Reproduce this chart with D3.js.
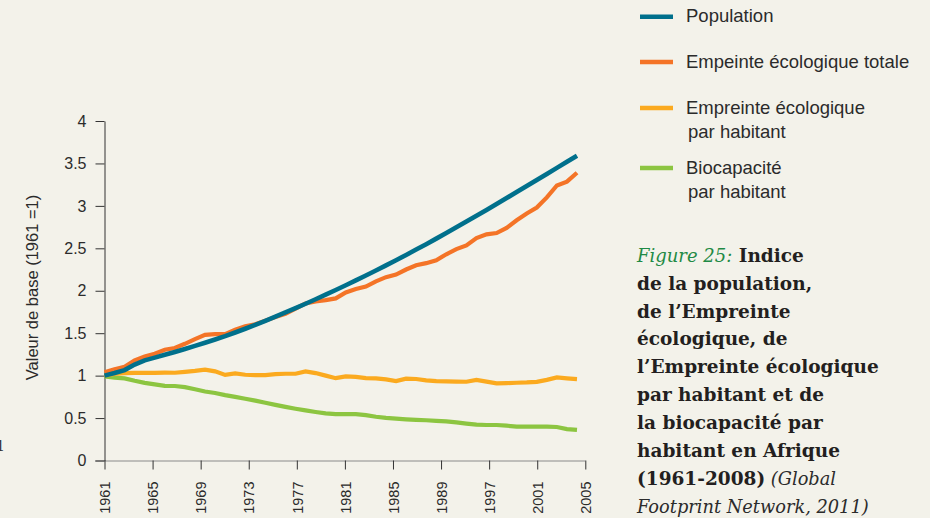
<!DOCTYPE html>
<html>
<head>
<meta charset="utf-8">
<script src="https://cdn.jsdelivr.net/npm/d3@7"></script>
<style>
  html, body { margin: 0; padding: 0; background: #f3f2ea; }
  svg { display: block; }
</style>
</head>
<body>
<svg id="chart" width="930" height="518"></svg>
<script>
// ---------------- DATA ----------------
const years = [1961,1962,1963,1964,1965,1966,1967,1968,1969,1970,1971,1972,1973,1974,1975,1976,
  1977,1978,1979,1980,1981,1982,1983,1984,1985,1986,1987,1988,1989,1990,1991,1992,1993,1994,1995,
  1996,1997,1998,1999,2000,2001,2002,2003,2004,2005,2006,2007,2008];

const population = [1.00,1.03,1.065,1.13,1.18,1.212,1.245,1.279,1.314,1.35,1.387,1.425,1.465,1.508,
  1.552,1.598,1.645,1.694,1.744,1.795,1.847,1.90,1.954,2.009,2.065,2.122,2.18,2.239,2.299,2.36,
  2.422,2.485,2.549,2.614,2.68,2.747,2.815,2.883,2.952,3.022,3.092,3.163,3.234,3.305,3.376,3.448,
  3.52,3.59];

const footprintTotal = [1.04,1.075,1.105,1.18,1.225,1.258,1.305,1.325,1.375,1.43,1.48,1.49,1.488,
  1.54,1.58,1.605,1.648,1.69,1.728,1.79,1.85,1.875,1.89,1.91,1.98,2.02,2.05,2.11,2.16,2.19,2.25,
  2.30,2.325,2.36,2.43,2.49,2.535,2.62,2.665,2.68,2.74,2.83,2.91,2.98,3.10,3.24,3.285,3.39];

const footprintPerCapita = [1.0,1.02,1.03,1.033,1.033,1.033,1.036,1.034,1.045,1.055,1.07,1.05,1.008,
  1.026,1.01,1.006,1.006,1.018,1.022,1.022,1.05,1.03,1.0,0.97,0.99,0.985,0.97,0.967,0.955,0.936,
  0.965,0.96,0.945,0.935,0.933,0.93,0.928,0.95,0.93,0.908,0.912,0.916,0.92,0.927,0.95,0.979,0.968,0.959];

const biocapacityPerCapita = [0.99,0.977,0.968,0.94,0.915,0.897,0.88,0.878,0.865,0.84,0.813,0.795,
  0.77,0.75,0.728,0.705,0.68,0.656,0.632,0.61,0.59,0.572,0.555,0.547,0.547,0.547,0.535,0.515,0.502,
  0.493,0.485,0.479,0.474,0.468,0.462,0.45,0.435,0.422,0.418,0.418,0.41,0.40,0.398,0.398,0.398,
  0.395,0.37,0.36];

const xTickLabels = ["1961","1965","1969","1973","1977","1981","1985","1989","1997","2001","2005"];
const yTickValues = [0,0.5,1,1.5,2,2.5,3,3.5,4];

const seriesNames = ["Population","Empeinte écologique totale","Empreinte écologique\npar habitant","Biocapacité\npar habitant"];
const seriesColors = ["#00708c","#f47427","#fbaa1f","#8cc541"];
const seriesValues = [population, footprintTotal, footprintPerCapita, biocapacityPerCapita];

const yAxisTitle = "Valeur de base (1961 =1)";

// ---------------- DRAW ----------------
const svg = d3.select("#chart");
svg.append("rect").attr("width",930).attr("height",518).attr("fill","#f3f2ea");

const x = d3.scaleLinear().domain([1961, 2008]).range([104.5, 577]);
const xAxisScale = d3.scalePoint().domain(xTickLabels).range([104.5, 585.3]);
const y = d3.scaleLinear().domain([0, 4]).range([460.5, 121]);

const sans = "'Liberation Sans', Arial, sans-serif";
const textColor = "#2b2b2b";

// x axis
const gx = svg.append("g").attr("transform", "translate(0,460.5)")
  .call(d3.axisBottom(xAxisScale).tickSize(9).tickSizeOuter(0));
gx.select(".domain").attr("stroke", "#8a8a8a").attr("d", "M95,0.5H585.3");
gx.selectAll(".tick line").attr("stroke", "#333");
gx.selectAll(".tick text")
  .attr("transform", "rotate(-90)")
  .attr("text-anchor", "end")
  .attr("x", -21).attr("y", 0).attr("dy", "0.36em")
  .attr("fill", textColor).style("font-family", sans).style("font-size", "14.5px");

// y axis
const gy = svg.append("g").attr("transform", "translate(104.5,0)")
  .call(d3.axisLeft(y).tickValues(yTickValues).tickFormat(d => String(d)).tickSize(9).tickSizeOuter(0).tickPadding(9));
gy.select(".domain").attr("stroke", "#333");
gy.selectAll(".tick line").attr("stroke", "#333");
gy.selectAll(".tick text").attr("fill", textColor).style("font-family", sans).style("font-size", "16px");

svg.append("text")
  .attr("transform", "translate(38,287.5) rotate(-90)")
  .attr("text-anchor", "middle")
  .attr("fill", textColor).style("font-family", sans).style("font-size", "16.5px")
  .text(yAxisTitle);

// lines
const line = d3.line().x((d, i) => x(years[i])).y(d => y(d));
const drawOrder = [3, 2, 1, 0];
drawOrder.forEach(k => {
  svg.append("path")
    .datum(seriesValues[k])
    .attr("fill", "none")
    .attr("stroke", seriesColors[k])
    .attr("stroke-width", k === 0 ? 4.6 : 4.2)
    .attr("stroke-linejoin", "miter")
    .attr("d", line);
});

// legend
const legendY = [16.7, 62, 108, 168];
const legend = svg.append("g");
seriesNames.forEach((name, k) => {
  legend.append("line")
    .attr("x1", 640).attr("x2", 673)
    .attr("y1", legendY[k]).attr("y2", legendY[k])
    .attr("stroke", seriesColors[k]).attr("stroke-width", 4.5);
  const lines = name.split("\n");
  const t = legend.append("text")
    .attr("fill", textColor).style("font-family", sans).style("font-size", "18.5px");
  lines.forEach((ln, j) => {
    t.append("tspan")
      .attr("x", j === 0 ? 686 : 688)
      .attr("y", legendY[k] + 5.5 + j * 24.5)
      .text(ln);
  });
});

// caption
const serif = "'DejaVu Serif', Georgia, serif";
const captionLines = [
  [["Figure 25:", "it"], [" Indice", "b"]],
  [["de la population,", "b"]],
  [["de l’Empreinte", "b"]],
  [["écologique, de", "b"]],
  [["l’Empreinte écologique", "b"]],
  [["par habitant et de", "b"]],
  [["la biocapacité par", "b"]],
  [["habitant en Afrique", "b"]],
  [["(1961-2008)", "b"], [" (Global", "i"]],
  [["Footprint Network, 2011)", "i"]]
];
const cap = svg.append("text").style("font-family", serif);
captionLines.forEach((parts, j) => {
  parts.forEach((p, m) => {
    const ts = cap.append("tspan").text(p[0]);
    if (m === 0) ts.attr("x", 637).attr("y", 261.7 + j * 27.9);
    if (p[1] === "it") ts.attr("fill", "#1f8a45").style("font-style", "italic").style("font-size", "18px");
    else if (p[1] === "i") ts.attr("fill", textColor).style("font-style", "italic").style("font-size", "17.8px");
    else ts.attr("fill", "#231f20").style("font-weight", "bold").style("font-size", "18.5px");
  });
});

// stray page glyph at left edge
svg.append("text").attr("x", -4).attr("y", 451).attr("fill", "#333")
  .style("font-family", serif).style("font-size", "14px").text("1");
</script>
</body>
</html>
